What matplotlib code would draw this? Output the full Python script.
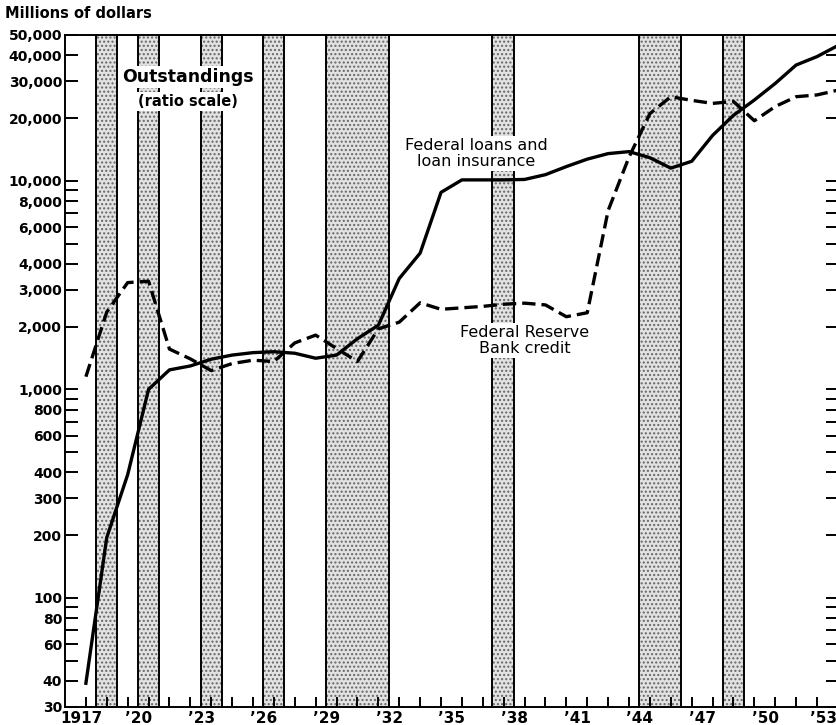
import numpy as np
import matplotlib
matplotlib.use("Agg")
import matplotlib.pyplot as plt
import matplotlib.transforms as mtransforms

# ---- data ----
years = list(range(1917, 1954))

# Federal loans and loan insurance, millions of dollars
fed_loans = [39, 195, 390, 1000, 1240, 1295, 1395, 1460, 1500, 1515, 1490, 1410,
             1460, 1750, 2030, 3400, 4500, 8800, 10100, 10100, 10100, 10150, 10700,
             11700, 12700, 13500, 13800, 12900, 11500, 12400, 16500, 20600, 24400,
             29300, 35900, 39400, 44500]

# Federal Reserve Bank credit, millions of dollars
fr_credit = [1150, 2350, 3250, 3300, 1560, 1400, 1230, 1330, 1380, 1360, 1670, 1820,
             1570, 1360, 1950, 2100, 2600, 2420, 2460, 2500, 2560, 2590, 2540,
             2230, 2330, 7200, 13000, 21000, 25300, 24300, 23500, 24000, 19400,
             22700, 25300, 25800, 27200]

# recession bands (chart year coordinates)
bands = [(1917.5, 1918.5), (1919.5, 1920.5), (1922.5, 1923.5), (1925.5, 1926.5),
         (1928.5, 1931.5), (1936.45, 1937.5), (1943.5, 1945.5), (1947.5, 1948.5)]

ytick_vals = [30, 40, 60, 80, 100, 200, 300, 400, 600, 800, 1000, 2000, 3000, 4000,
              6000, 8000, 10000, 20000, 30000, 40000, 50000]
ytick_minor = [50, 70, 90, 500, 700, 900, 5000, 7000, 9000]
xtick_years = list(range(1917, 1954, 3))
xtick_labels = ["1917"] + ["\u2019%02d" % (y % 100) for y in xtick_years[1:]]

# ---- figure ----
W, H = 837, 725
fig = plt.figure(figsize=(W / 100, H / 100), dpi=100)
left, bottom, top = 65, 707, 35
x0, x1 = 1916, 1953
px_per_year = 20.89
ax_w = (x1 - x0) * px_per_year
ax = fig.add_axes([left / W, (H - bottom) / H, ax_w / W, (bottom - top) / H])

ax.set_yscale("log")
ax.set_xlim(x0, x1)
ax.set_ylim(30, 50000)

for a, b in bands:
    ax.axvspan(a, b, facecolor="#e2e2e2", edgecolor="#666666", hatch="....",
               linewidth=0, zorder=1)
    ax.axvline(a, color="black", linewidth=1.4, zorder=1.5)
    ax.axvline(b, color="black", linewidth=1.4, zorder=1.5)

ax.plot(years, fed_loans, color="black", linewidth=2.4, solid_joinstyle="round",
        zorder=5)
ax.plot(years, fr_credit, color="black", linewidth=2.4, linestyle=(0, (4, 1.8)),
        zorder=5)

# x labels drawn as texts so they can sit a little left of their ticks
ax.set_xticks(xtick_years, [""] * len(xtick_years))
ax.set_xticks(years, minor=True)
xtrans = ax.get_xaxis_transform()
for yr, lab in zip(xtick_years, xtick_labels):
    if yr == xtick_years[-1]:
        off, ha = -1, "right"
    elif yr == xtick_years[0]:
        off, ha = -4, "center"
    else:
        off, ha = -10, "center"
    tr = xtrans + mtransforms.ScaledTranslation(off / 100, -4 / 100, fig.dpi_scale_trans)
    ax.text(yr, 0, lab, transform=tr, ha=ha, va="top", fontsize=11,
            fontweight="bold", clip_on=False)

ax.set_yticks(ytick_vals, ["{:,}".format(v) for v in ytick_vals])
ax.set_yticks(ytick_minor, minor=True)
ax.yaxis.set_minor_formatter(matplotlib.ticker.NullFormatter())

ax.tick_params(axis="both", which="both", direction="in", width=1.4, color="black")
ax.tick_params(axis="y", which="both", length=9, right=True, pad=2)
ax.tick_params(axis="x", which="both", length=7)
for lab in ax.get_yticklabels():
    lab.set_fontsize(10)
    lab.set_fontweight("bold")

for s in ax.spines.values():
    s.set_linewidth(1.4)

box = dict(facecolor="white", edgecolor="none", pad=1.5)
ax.text(1921.9, 31400, "Outstandings", fontsize=12.5, fontweight="bold",
        ha="center", va="center", bbox=box, zorder=3)
ax.text(1921.9, 24000, "(ratio scale)", fontsize=10.5, fontweight="bold",
        ha="center", va="center", bbox=box, zorder=3)
ax.text(1935.7, 13500, "Federal loans and\nloan insurance", fontsize=11.5,
        ha="center", va="center", linespacing=1.05, bbox=box, zorder=3)
ax.text(1938.0, 1720, "Federal Reserve\nBank credit", fontsize=11.5,
        ha="center", va="center", linespacing=1.05, bbox=box, zorder=3)

fig.text(5 / W, 1 - 14 / H, "Millions of dollars", fontsize=10.5, fontweight="bold",
         ha="left", va="center")

fig.savefig("out.png", dpi=100)
